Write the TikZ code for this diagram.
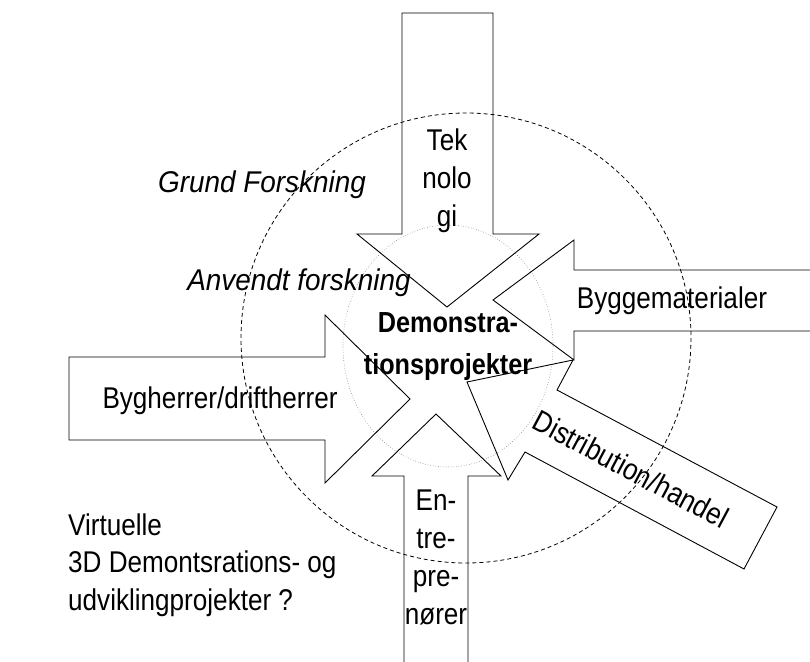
\documentclass[tikz,border=0pt]{standalone}
\usepackage{fontspec}
\setmainfont{Liberation Sans}[FakeStretch=0.87]
\newfontfamily\itfam{Liberation Sans}[FakeStretch=0.93]
\begin{document}
\begin{tikzpicture}[x=1pt,y=-1pt,
  arrowshape/.style={draw=black, line width=0.9pt, line join=miter},
  lbl/.style={font=\fontsize{30}{38}\selectfont, inner sep=0pt, align=center, text=black},
  ilbl/.style={lbl, font=\itfam\fontsize{30}{38}\selectfont\itshape},
  blbl/.style={lbl, font=\fontsize{29}{42}\selectfont\bfseries},
  lefttxt/.style={lbl, anchor=west, align=left}]
\useasboundingbox (0,0) rectangle (810,661);
% circles
\draw[black, line width=0.8pt, dash pattern=on 4pt off 3pt] (466,338) circle [radius=225];
\draw[gray, line width=0.6pt, dotted] (448,346) ellipse [x radius=105, y radius=121];
% Teknologi arrow (down)
\draw[arrowshape] (402,13) -- (493,13) -- (493,234) -- (539,234) -- (447,307) -- (357,234) -- (402,234) -- cycle;
% Byggematerialer arrow (left)
\draw[arrowshape] (811,270) -- (574,270) -- (574,240) -- (493,300) -- (574,360) -- (574,331) -- (811,331);
% Bygherrer arrow (right)
\draw[arrowshape] (69,357) -- (325,357) -- (325,315) -- (410,399) -- (325,483) -- (325,440) -- (69,440) -- cycle;
% Entreprenorer arrow (up)
\draw[arrowshape] (404,662) -- (404,476) -- (372,476) -- (436,414) -- (501,476) -- (468,476) -- (468,662);
% Distribution arrow (up-left)
\draw[arrowshape] (467,382) -- (573,360) -- (557,390) -- (777,507) -- (744,569) -- (525,452) -- (508,480) -- cycle;
% labels
\node[lbl] (tek) at (447,181) {Tek\\nolo\\gi};
\node[ilbl] (grund) at (262,185) {Grund Forskning};
\node[ilbl] (anv) at (299,283) {Anvendt forskning};
\node[blbl] (demo) at (448,347) {Demonstra-\\tionsprojekter};
\node[lbl] (bygg) at (672,301) {Byggematerialer};
\node[lbl] (bygh) at (220,401) {Bygherrer/driftherrer};
\node[lbl, rotate=-28] (dist) at (631,469) {Distribution/handel};
\node[lbl] (entr) at (436,557) {En-\\tre-\\pre-\\nører};
\node[lefttxt] (virt) at (68,525) {Virtuelle};
\node[lefttxt] (vd1) at (68,565) {3D Demontsrations- og};
\node[lefttxt] (vd2) at (68,603) {udviklingprojekter ?};
\end{tikzpicture}
\end{document}
